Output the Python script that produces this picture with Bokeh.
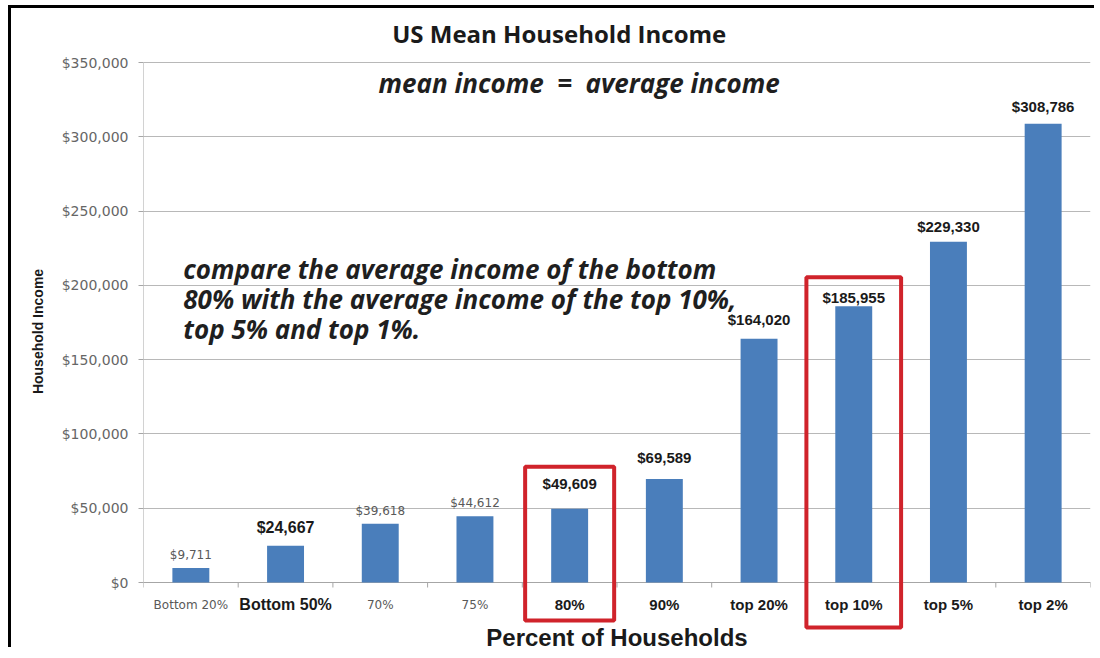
import numpy as np
from bokeh.plotting import figure
from bokeh.models import Range1d, FixedTicker, NumeralTickFormatter, ColumnDataSource
from bokeh.core.properties import value
from bokeh.embed import file_html
from bokeh.resources import INLINE

# ---------------- data ----------------
categories = ["Bottom 20%", "Bottom 50%", "70%", "75%", "80%", "90%",
              "top 20%", "top 10%", "top 5%", "top 2%"]
incomes = [9711, 24667, 39618, 44612, 49609, 69589, 164020, 185955, 229330, 308786]
y_ticks = [0, 50000, 100000, 150000, 200000, 250000, 300000, 350000]
highlighted = ["80%", "top 10%"]

title_text = "US Mean Household Income"
subtitle_text = "mean income\u00a0 =\u00a0 average income"
note_lines = ["compare the average income of the bottom",
              "80% with the average income of the top 10%,",
              "top 5% and top 1%."]

# ---------------- styles ----------------
label_style = ["small", "big", "small", "small", "bold", "bold", "bold", "bold", "bold", "bold"]
label_gap_px = [13, 18, 13, 13, 25, 22, 19, 9, 15, 17]
box_width = [0.94, 1.0]
box_pad_top_px = [42, 29]
box_pad_bottom_px = [38, 45]

STYLE = {
    "small": dict(font="DejaVu Sans", size="12px", weight="normal", color="#595959"),
    "big": dict(font="Liberation Sans", size="16px", weight="bold", color="#1a1a1a"),
    "bold": dict(font="Liberation Sans", size="15px", weight="bold", color="#1a1a1a"),
}

U = max(y_ticks) / 520.0  # data units per screen pixel (vertical)

n = len(categories)
centers = np.arange(n) + 0.5

p = figure(width=1086, height=642,
           x_range=Range1d(0, n), y_range=Range1d(-68 * U, max(y_ticks) + 50 * U),
           output_backend="svg", toolbar_location=None,
           min_border_left=132, min_border_right=7, min_border_top=4, min_border_bottom=0)
p.styles = {"margin-left": "11px", "margin-top": "8px",
            "margin-bottom": "-40px", "margin-right": "-40px",
            "box-shadow": "-3px -3px 0px 0px #000"}
p.outline_line_color = None
p.background_fill_color = "white"
p.border_fill_color = "white"
p.xaxis.visible = False
p.xgrid.visible = False

yax = p.yaxis[0]
yax.ticker = FixedTicker(ticks=y_ticks)
yax.formatter = NumeralTickFormatter(format="$0,0")
yax.axis_line_color = None
yax.major_tick_line_color = "#a6a6a6"
yax.major_tick_out = 5
yax.major_tick_in = 0
yax.minor_tick_line_color = None
yax.major_label_text_font = "DejaVu Sans"
yax.major_label_text_font_size = "14px"
yax.major_label_text_color = "#666666"
yax.major_label_standoff = 10
yax.axis_label = "Household Income"
yax.axis_label_text_font = "Liberation Sans"
yax.axis_label_text_font_style = "bold"
yax.axis_label_text_font_size = "14px"
yax.axis_label_text_color = "#1a1a1a"
yax.axis_label_standoff = 13

p.ygrid.ticker = FixedTicker(ticks=y_ticks)
p.ygrid.grid_line_color = "#b8b8b8"
p.ygrid.grid_line_width = 1

# axis lines and category-boundary ticks
p.segment(x0=[0, 0], y0=[0, 0], x1=[0, n], y1=[max(y_ticks), 0],
          line_color="#a6a6a6", line_width=1)
bounds = np.arange(n + 1)
p.segment(x0=bounds, y0=np.zeros(n + 1), x1=bounds, y1=np.full(n + 1, -5 * U),
          line_color="#a6a6a6", line_width=1)

# bars
p.vbar(x=centers, top=incomes, bottom=0, width=0.39,
       fill_color="#4A7EBB", line_color=None)

# value labels + category labels
src = ColumnDataSource(dict(
    x=centers,
    vy=[v + g * U for v, g in zip(incomes, label_gap_px)],
    cy=np.full(n, -22 * U),
    vtext=["${:,}".format(v) for v in incomes],
    ctext=categories,
    font=[STYLE[s]["font"] for s in label_style],
    size=[STYLE[s]["size"] for s in label_style],
    weight=[STYLE[s]["weight"] for s in label_style],
    color=[STYLE[s]["color"] for s in label_style],
))
for ycol, tcol in (("vy", "vtext"), ("cy", "ctext")):
    p.text(x="x", y=ycol, text=tcol, source=src,
           text_font="font", text_font_size="size", text_font_style="weight",
           text_color="color", text_align="center", text_baseline="middle")

# highlight boxes
hi = [categories.index(c) for c in highlighted]
p.quad(left=[centers[i] - w / 2 for i, w in zip(hi, box_width)],
       right=[centers[i] + w / 2 for i, w in zip(hi, box_width)],
       top=[incomes[i] + t * U for i, t in zip(hi, box_pad_top_px)],
       bottom=[-b * U for b in box_pad_bottom_px],
       fill_alpha=0, line_color="#D0232B", line_width=4)

# titles / notes
p.text(x=[4.39], y=[549 * U], text=[title_text], text_font=value("Open Sans"),
       text_font_style="bold", text_font_size="24px", text_color="#1a1a1a",
       text_align="center", text_baseline="middle")
p.text(x=[4.60], y=[500 * U], text=[subtitle_text], text_font=value("Open Sans"),
       text_font_style="bold italic", text_font_size="26px", text_color="#1f1f1f",
       text_align="center", text_baseline="middle")
p.text(x=[0.42] * 3, y=[314 * U, 284 * U, 254 * U], text=note_lines,
       text_font=value("Open Sans"), text_font_style="bold italic",
       text_font_size="26px", text_color="#1f1f1f",
       text_align="left", text_baseline="middle")
p.text(x=[5.0], y=[-55 * U], text=["Percent of Households"],
       text_font=value("Liberation Sans"), text_font_style="bold",
       text_font_size="24px", text_color="#1a1a1a",
       text_align="center", text_baseline="middle")

open("out.html", "w").write(file_html(p, INLINE))
